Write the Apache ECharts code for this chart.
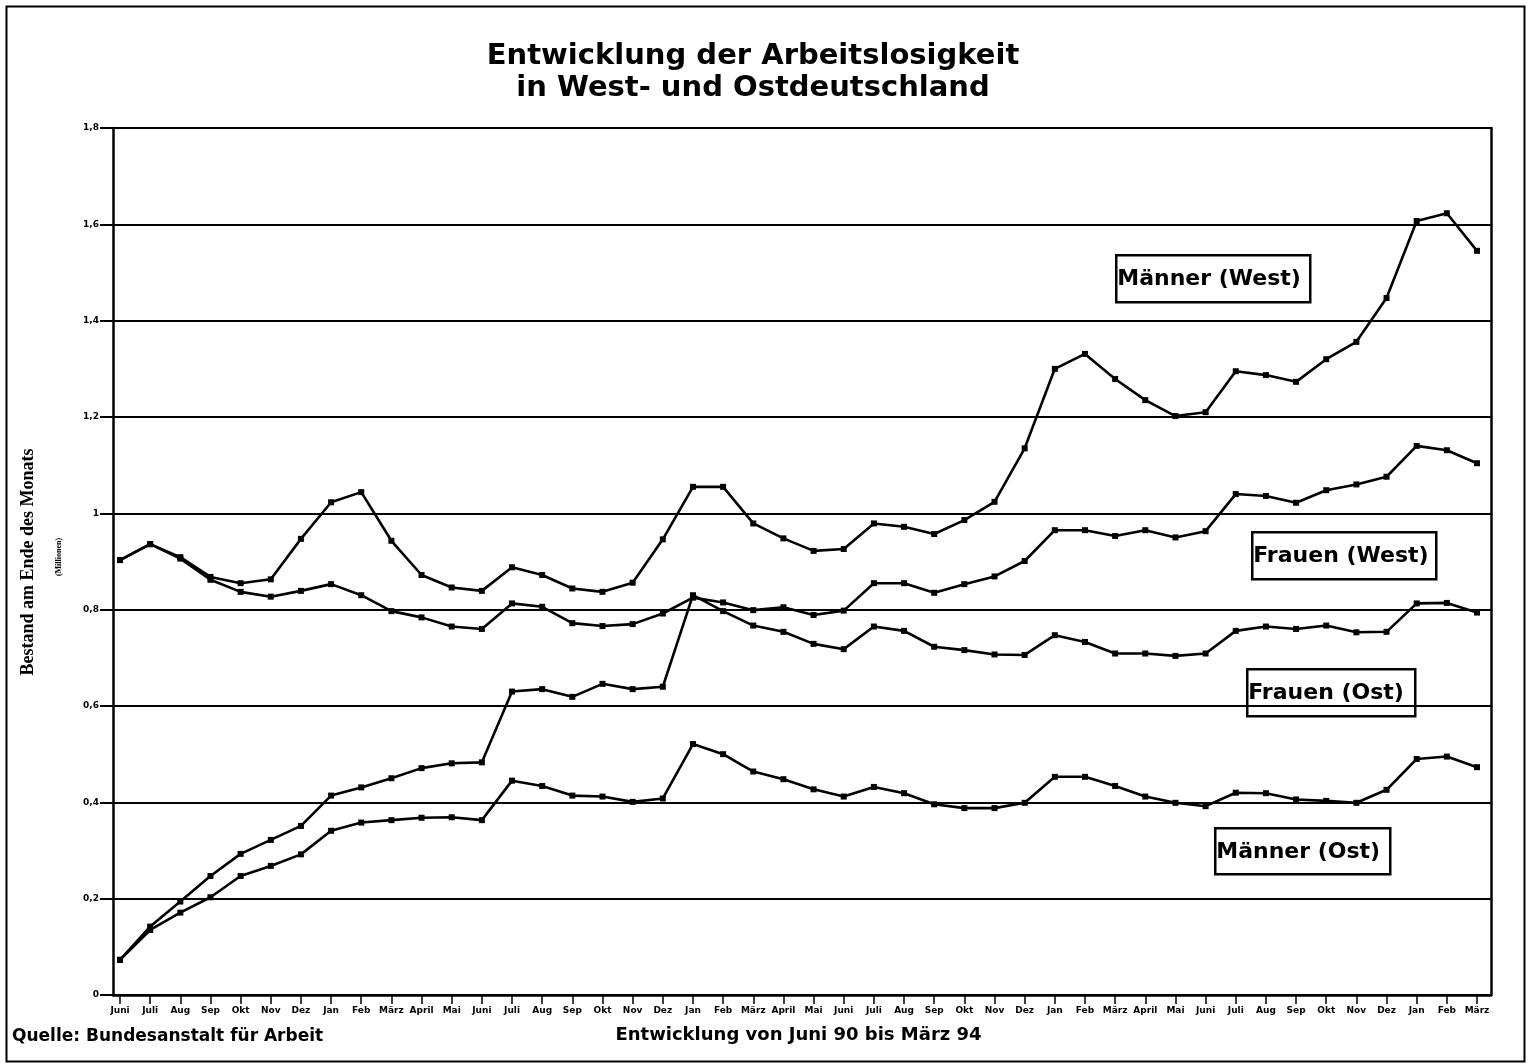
<!DOCTYPE html>
<html><head><meta charset="utf-8">
<script src="https://cdn.jsdelivr.net/npm/echarts@6/dist/echarts.min.js"></script>
<style>html,body{margin:0;padding:0;background:#fff}#c{width:1535px;height:1064px}</style>
</head><body><div id="c"></div>
<script>
// Monate Juni 90 bis März 94
const months = ['Juni','Juli','Aug','Sep','Okt','Nov','Dez','Jan','Feb','März','April','Mai',
  'Juni','Juli','Aug','Sep','Okt','Nov','Dez','Jan','Feb','März','April','Mai',
  'Juni','Juli','Aug','Sep','Okt','Nov','Dez','Jan','Feb','März','April','Mai',
  'Juni','Juli','Aug','Sep','Okt','Nov','Dez','Jan','Feb','März'];

// Bestand am Ende des Monats (Millionen)
const maennerWest = [0.903,0.936,0.909,0.868,0.855,0.863,0.947,1.023,1.044,0.943,0.872,0.846,
  0.839,0.888,0.872,0.844,0.837,0.856,0.946,1.055,1.055,0.979,0.948,0.922,
  0.926,0.979,0.972,0.957,0.986,1.024,1.135,1.300,1.331,1.279,1.235,1.202,
  1.210,1.295,1.287,1.273,1.320,1.356,1.447,1.607,1.623,1.545];
const frauenWest = [0.903,0.936,0.906,0.862,0.837,0.827,0.839,0.853,0.830,0.797,0.784,0.765,
  0.760,0.813,0.806,0.772,0.766,0.770,0.792,0.825,0.815,0.799,0.805,0.789,
  0.798,0.855,0.855,0.835,0.853,0.869,0.901,0.965,0.965,0.953,0.965,0.950,
  0.963,1.040,1.036,1.022,1.048,1.060,1.076,1.140,1.131,1.104];
const frauenOst = [0.073,0.142,0.194,0.247,0.293,0.322,0.351,0.414,0.431,0.450,0.471,0.481,
  0.483,0.630,0.635,0.619,0.646,0.635,0.640,0.830,0.797,0.767,0.754,0.729,
  0.718,0.765,0.756,0.723,0.716,0.707,0.706,0.747,0.733,0.709,0.709,0.704,
  0.709,0.756,0.765,0.760,0.767,0.753,0.754,0.813,0.814,0.794];
const maennerOst = [0.073,0.135,0.171,0.203,0.247,0.268,0.292,0.341,0.358,0.363,0.368,0.369,
  0.363,0.445,0.434,0.414,0.412,0.401,0.408,0.521,0.500,0.464,0.448,0.427,
  0.412,0.432,0.419,0.396,0.388,0.388,0.399,0.453,0.453,0.434,0.412,0.399,
  0.392,0.420,0.419,0.406,0.403,0.399,0.426,0.490,0.495,0.473];

const yTickLabels = ['0','0,2','0,4','0,6','0,8','1','1,2','1,4','1,6','1,8'];
const seriesNames = ['Männer (West)','Frauen (West)','Frauen (Ost)','Männer (Ost)'];

const chart = echarts.init(document.getElementById('c'), null, {renderer:'canvas'});
const SANS = 'DejaVu Sans';
const lineS = {color:'#000', width:2.6};

function mkSeries(name, data){
  return {name:name, type:'line', xAxisIndex:0, yAxisIndex:0, data:data,
    symbol:'rect', symbolSize:6, showSymbol:true,
    itemStyle:{color:'#000'}, lineStyle:lineS, animation:false, z:5};
}

function labelBox(x, y, w, h, text){
  return {type:'group', left:x, top:y, z:100, children:[
    {type:'rect', shape:{x:0, y:0, width:w, height:h},
     style:{fill:'#fff', stroke:'#000', lineWidth:2.5}},
    {type:'text', x:1, y:h/2+1, style:{text:text, fill:'#000',
      font:'bold 22px "DejaVu Sans"', textVerticalAlign:'middle', textAlign:'left'}}
  ]};
}

chart.setOption({
  backgroundColor:'#fff',
  animation:false,
  title:{text:'Entwicklung der Arbeitslosigkeit\nin West- und Ostdeutschland',
    left:748, top:35, textAlign:'center',
    textStyle:{fontSize:29, fontWeight:'bold', fontFamily:SANS, lineHeight:32, color:'#000'}},
  grid:[
    {left:120, right:58, top:128, bottom:69},
    {left:113, right:44, top:128, bottom:69}
  ],
  xAxis:[
    {gridIndex:0, type:'category', data:months, boundaryGap:false,
     axisLine:{show:false},
     axisTick:{show:true, interval:0, length:9, lineStyle:{color:'#000', width:1.5}},
     axisLabel:{interval:0, fontSize:9, fontWeight:'bold', color:'#000', margin:11, fontFamily:SANS},
     splitLine:{show:false},
     name:'Entwicklung von Juni 90 bis März 94', nameLocation:'middle', nameGap:31,
     nameTextStyle:{fontSize:18, fontWeight:'bold', fontFamily:SANS, color:'#000'}},
    {gridIndex:1, type:'value', min:0, max:1,
     axisLine:{show:true, lineStyle:{color:'#000', width:2.5}},
     axisTick:{show:false}, axisLabel:{show:false}, splitLine:{show:false}}
  ],
  yAxis:[
    {gridIndex:0, type:'value', min:0, max:1.8, interval:0.2, show:false, splitLine:{show:false}},
    {gridIndex:1, type:'value', min:0, max:1.8, interval:0.2,
     axisLine:{show:true, lineStyle:{color:'#000', width:2.5}},
     axisTick:{show:true, inside:false, length:13, lineStyle:{color:'#000', width:2}},
     axisLabel:{fontSize:9, fontWeight:'bold', color:'#000', margin:14, fontFamily:SANS,
       formatter:function(v){ return yTickLabels[Math.round(v/0.2)]; }},
     splitLine:{show:true, lineStyle:{color:'#000', width:2}}},
    {gridIndex:1, type:'value', position:'right', min:0, max:1.8, interval:0.2,
     axisLine:{show:true, lineStyle:{color:'#000', width:2.5}},
     axisTick:{show:false}, axisLabel:{show:false}, splitLine:{show:false}}
  ],
  series:[
    mkSeries(seriesNames[0], maennerWest),
    mkSeries(seriesNames[1], frauenWest),
    mkSeries(seriesNames[2], frauenOst),
    mkSeries(seriesNames[3], maennerOst)
  ],
  graphic:[
    {type:'rect', left:4, top:4, z:-1, shape:{x:0, y:0, width:1518, height:1055},
     style:{fill:'none', stroke:'#000', lineWidth:2}},
    labelBox(1115, 254, 194, 47, seriesNames[0]),
    labelBox(1251, 531, 184, 47, seriesNames[1]),
    labelBox(1246, 668, 168, 47, seriesNames[2]),
    labelBox(1214, 827, 175, 46, seriesNames[3]),
    {type:'text', x:28, y:562, rotation:Math.PI/2, z:10,
     style:{text:'Bestand am Ende des Monats', fill:'#000',
       font:'bold 18px "Liberation Serif"', textAlign:'center', textVerticalAlign:'middle'}},
    {type:'text', x:59, y:557, rotation:Math.PI/2, z:10,
     style:{text:'(Millionen)', fill:'#000',
       font:'bold 8px "Liberation Serif"', textAlign:'center', textVerticalAlign:'middle'}},
    {type:'text', left:12, top:1028, z:10,
     style:{text:'Quelle: Bundesanstalt für Arbeit', fill:'#000',
       font:'bold 17px "DejaVu Sans"'}}
  ]
});
</script>
</body></html>
